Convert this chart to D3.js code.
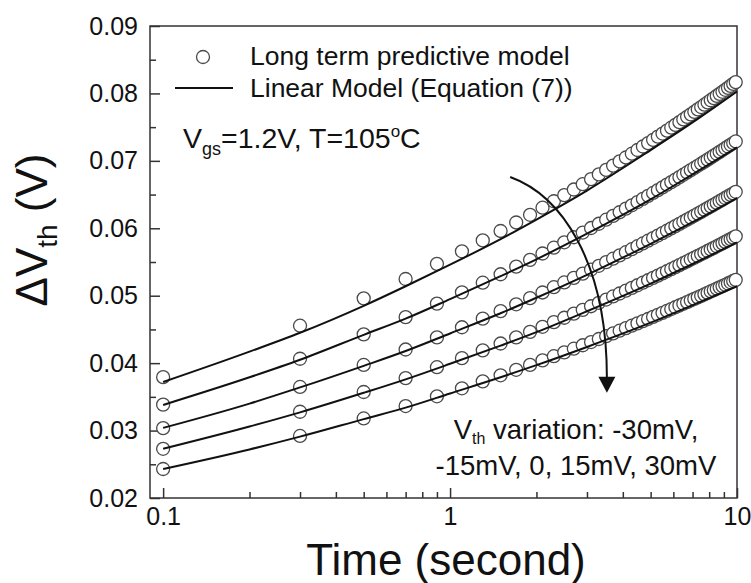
<!DOCTYPE html>
<html>
<head>
<meta charset="utf-8">
<script src="https://cdn.jsdelivr.net/npm/d3@7"></script>
<style>
  body { margin: 0; background: #fff; }
  svg { display: block; }
  text { font-family: "Liberation Sans", Arial, sans-serif; fill: #111; }
</style>
</head>
<body>
<div id="chart"></div>
<script>
// time points of the long term predictive model (seconds)
var predTimes = [0.1, 0.3, 0.5, 0.7, 0.9, 1.1, 1.3, 1.5, 1.7, 1.9,
                 2.1, 2.3, 2.5, 2.7, 2.9, 3.1, 3.3, 3.5, 3.7, 3.9,
                 4.1, 4.3, 4.5, 4.7, 4.9, 5.1, 5.3, 5.5, 5.7, 5.9,
                 6.1, 6.3, 6.5, 6.7, 6.9, 7.1, 7.3, 7.5, 7.7, 7.9,
                 8.1, 8.3, 8.5, 8.7, 8.9, 9.1, 9.3, 9.5, 9.7, 9.9];

// predictive model, Vth variation -30mV
var predM30 = [0.03792, 0.04555, 0.04961, 0.05248, 0.05473, 0.05659, 0.05820, 0.05960, 0.06086, 0.06200,
               0.06305, 0.06401, 0.06491, 0.06575, 0.06654, 0.06729, 0.06799, 0.06866, 0.06930, 0.06992,
               0.07050, 0.07106, 0.07161, 0.07213, 0.07263, 0.07312, 0.07359, 0.07405, 0.07449, 0.07492,
               0.07534, 0.07574, 0.07614, 0.07653, 0.07690, 0.07727, 0.07763, 0.07798, 0.07833, 0.07866,
               0.07899, 0.07931, 0.07963, 0.07994, 0.08024, 0.08054, 0.08083, 0.08112, 0.08141, 0.08168];
// -15mV
var predM15 = [0.03384, 0.04065, 0.04427, 0.04683, 0.04883, 0.05050, 0.05193, 0.05318, 0.05431, 0.05532,
               0.05626, 0.05712, 0.05792, 0.05867, 0.05937, 0.06004, 0.06067, 0.06127, 0.06184, 0.06238,
               0.06291, 0.06341, 0.06389, 0.06436, 0.06481, 0.06524, 0.06566, 0.06607, 0.06647, 0.06685,
               0.06722, 0.06759, 0.06794, 0.06828, 0.06862, 0.06895, 0.06927, 0.06958, 0.06989, 0.07019,
               0.07048, 0.07077, 0.07105, 0.07133, 0.07160, 0.07187, 0.07213, 0.07238, 0.07264, 0.07288];
// 0mV
var pred0 = [0.03036, 0.03647, 0.03973, 0.04202, 0.04382, 0.04532, 0.04660, 0.04772, 0.04873, 0.04965,
             0.05048, 0.05126, 0.05197, 0.05265, 0.05328, 0.05388, 0.05444, 0.05498, 0.05549, 0.05598,
             0.05645, 0.05690, 0.05734, 0.05775, 0.05816, 0.05855, 0.05892, 0.05929, 0.05964, 0.05999,
             0.06032, 0.06065, 0.06097, 0.06128, 0.06158, 0.06187, 0.06216, 0.06244, 0.06272, 0.06299,
             0.06325, 0.06351, 0.06376, 0.06401, 0.06425, 0.06449, 0.06473, 0.06496, 0.06518, 0.06541];
// +15mV
var predP15 = [0.02730, 0.03279, 0.03572, 0.03778, 0.03940, 0.04074, 0.04190, 0.04291, 0.04382, 0.04464,
               0.04539, 0.04608, 0.04673, 0.04734, 0.04790, 0.04844, 0.04895, 0.04943, 0.04989, 0.05033,
               0.05076, 0.05116, 0.05155, 0.05193, 0.05229, 0.05264, 0.05298, 0.05331, 0.05363, 0.05394,
               0.05424, 0.05453, 0.05482, 0.05509, 0.05537, 0.05563, 0.05589, 0.05614, 0.05639, 0.05663,
               0.05687, 0.05710, 0.05733, 0.05755, 0.05777, 0.05798, 0.05820, 0.05840, 0.05861, 0.05881];
// +30mV
var predP30 = [0.02430, 0.02920, 0.03180, 0.03364, 0.03508, 0.03627, 0.03730, 0.03820, 0.03901, 0.03974,
               0.04041, 0.04103, 0.04160, 0.04214, 0.04265, 0.04313, 0.04358, 0.04401, 0.04442, 0.04481,
               0.04519, 0.04555, 0.04589, 0.04623, 0.04655, 0.04686, 0.04717, 0.04746, 0.04774, 0.04802,
               0.04829, 0.04855, 0.04880, 0.04905, 0.04929, 0.04953, 0.04976, 0.04998, 0.05020, 0.05042,
               0.05063, 0.05083, 0.05104, 0.05124, 0.05143, 0.05162, 0.05181, 0.05199, 0.05218, 0.05235];

// linear model (Equation (7))
var linTimes = [0.1, 0.2, 0.3, 0.5, 0.7, 1, 1.5, 2, 3, 5, 7, 10];
var linM30 = [0.0372, 0.0417, 0.0445, 0.0485, 0.0514, 0.0546, 0.0584, 0.0613, 0.0656, 0.0716, 0.0757, 0.0803];
var linM15 = [0.0338, 0.0379, 0.0405, 0.0442, 0.0466, 0.0495, 0.0529, 0.0554, 0.0592, 0.0643, 0.0680, 0.0720];
var lin0   = [0.0304, 0.0340, 0.0364, 0.0396, 0.0418, 0.0444, 0.0474, 0.0497, 0.0531, 0.0577, 0.0609, 0.0645];
var linP15 = [0.0273, 0.0306, 0.0327, 0.0356, 0.0376, 0.0399, 0.0426, 0.0446, 0.0477, 0.0518, 0.0547, 0.0579];
var linP30 = [0.0243, 0.0272, 0.0291, 0.0317, 0.0334, 0.0355, 0.0379, 0.0397, 0.0424, 0.0460, 0.0486, 0.0514];

// ticks
var xTicks = [0.1, 1, 10];
var xMinor = [0.2, 0.3, 0.4, 0.5, 0.6, 0.7, 0.8, 0.9, 2, 3, 4, 5, 6, 7, 8, 9];
var yTicks = [0.02, 0.03, 0.04, 0.05, 0.06, 0.07, 0.08, 0.09];
var yMinor = [0.025, 0.035, 0.045, 0.055, 0.065, 0.075, 0.085];

// arrow annotation (time, Vth) start and end
var arrowFrom = [1.62, 0.0676];
var arrowTo = [3.52, 0.0356];

var width = 751, height = 583;
var margin = {top: 26, right: 14, bottom: 85, left: 150};

var svg = d3.select("#chart").append("svg")
            .attr("width", width)
            .attr("height", height);

var x = d3.scaleLog()
          .domain([0.09, 10])
          .range([margin.left, width - margin.right]);

var y = d3.scaleLinear()
          .domain([0.02, 0.09])
          .range([height - margin.bottom, margin.top]);

// axes with inward ticks
var gx = svg.append("g")
            .attr("transform", "translate(0," + y(0.02) + ")")
            .call(d3.axisBottom(x).tickValues(xTicks).tickSize(-10).tickPadding(9)
                    .tickFormat(d3.format("")));
gx.append("g").call(d3.axisBottom(x).tickValues(xMinor).tickSize(-6).tickFormat(""));

var gy = svg.append("g")
            .attr("transform", "translate(" + margin.left + ",0)")
            .call(d3.axisLeft(y).tickValues(yTicks).tickSize(-10).tickPadding(12)
                    .tickFormat(d3.format(".2f")));
gy.append("g").call(d3.axisLeft(y).tickValues(yMinor).tickSize(-6).tickFormat(""));

svg.selectAll(".domain").remove();
svg.selectAll(".tick line").attr("stroke", "#333").attr("stroke-width", 1.5);
svg.selectAll(".tick text")
   .style("font-family", "'Liberation Sans', Arial, sans-serif")
   .style("font-size", "25px")
   .attr("fill", "#111");

// frame
svg.append("rect")
   .attr("x", x(0.09))
   .attr("y", y(0.09))
   .attr("width", x(10) - x(0.09))
   .attr("height", y(0.02) - y(0.09))
   .attr("fill", "none")
   .attr("stroke", "#333")
   .attr("stroke-width", 1.5);

var predSeries = [predM30, predM15, pred0, predP15, predP30];
var linSeries = [linM30, linM15, lin0, linP15, linP30];

// open circles, drawn left to right
predSeries.forEach(function(vals) {
  svg.append("g")
     .selectAll("circle")
     .data(vals)
     .enter()
     .append("circle")
     .attr("cx", function(d, i) { return x(predTimes[i]); })
     .attr("cy", function(d) { return y(d); })
     .attr("r", 6.5)
     .attr("fill", "#fff")
     .attr("stroke", "#4a4a4a")
     .attr("stroke-width", 1.3);
});

// linear model lines
var line = d3.line()
             .x(function(d, i) { return x(linTimes[i]); })
             .y(function(d) { return y(d); })
             .curve(d3.curveMonotoneX);

linSeries.forEach(function(vals) {
  svg.append("path")
     .datum(vals)
     .attr("d", line)
     .attr("fill", "none")
     .attr("stroke", "#111")
     .attr("stroke-width", 2);
});

// legend
svg.append("circle")
   .attr("cx", 203).attr("cy", 57).attr("r", 6.5)
   .attr("fill", "#fff").attr("stroke", "#4a4a4a").attr("stroke-width", 1.3);
svg.append("line")
   .attr("x1", 175).attr("x2", 233).attr("y1", 88).attr("y2", 88)
   .attr("stroke", "#111").attr("stroke-width", 2);
svg.append("text").attr("x", 250).attr("y", 65)
   .style("font-size", "26.5px").text("Long term predictive model");
svg.append("text").attr("x", 250).attr("y", 97)
   .style("font-size", "26.5px").text("Linear Model (Equation (7))");

// conditions
var cond = svg.append("text").attr("x", 183).attr("y", 148).style("font-size", "28.5px");
cond.append("tspan").text("V");
cond.append("tspan").attr("dy", 7).style("font-size", "18px").text("gs");
cond.append("tspan").attr("dy", -7).text("=1.2V, T=105");
cond.append("tspan").attr("dy", -11).style("font-size", "17px").text("o");
cond.append("tspan").attr("dy", 11).text("C");

// Vth variation note
var note = svg.append("text").attr("x", 576).attr("y", 439)
              .attr("text-anchor", "middle").style("font-size", "27.5px");
note.append("tspan").text("V");
note.append("tspan").attr("dy", 5).style("font-size", "16px").text("th");
note.append("tspan").attr("dy", -5).text(" variation: -30mV,");
svg.append("text").attr("x", 576).attr("y", 475)
   .attr("text-anchor", "middle").style("font-size", "27.5px")
   .text("-15mV, 0, 15mV, 30mV");

// curved arrow
var ax0 = x(arrowFrom[0]), ay0 = y(arrowFrom[1]);
var ax1 = x(arrowTo[0]), ay1 = y(arrowTo[1]);
svg.append("path")
   .attr("d", "M" + ax0 + "," + ay0 +
              " C" + (ax0 + 50) + "," + (ay0 + 18) + " " + ax1 + "," + (ay0 + 83) + " " + ax1 + "," + (ay1 - 15))
   .attr("fill", "none")
   .attr("stroke", "#111")
   .attr("stroke-width", 2);
svg.append("path")
   .attr("d", "M" + (ax1 - 8.5) + "," + (ay1 - 16) + " L" + (ax1 + 8.5) + "," + (ay1 - 16) + " L" + ax1 + "," + ay1 + " Z")
   .attr("fill", "#111");

// axis titles
svg.append("text")
   .attr("x", 446).attr("y", 575)
   .attr("text-anchor", "middle")
   .style("font-size", "44px")
   .text("Time (second)");

var yt = svg.append("text")
            .attr("transform", "translate(47,230) rotate(-90)")
            .attr("text-anchor", "middle")
            .style("font-size", "44px");
yt.append("tspan").text("\u0394V");
yt.append("tspan").attr("dy", 10).style("font-size", "28px").text("th");
yt.append("tspan").attr("dy", -10).text(" (V)");
</script>
</body>
</html>
